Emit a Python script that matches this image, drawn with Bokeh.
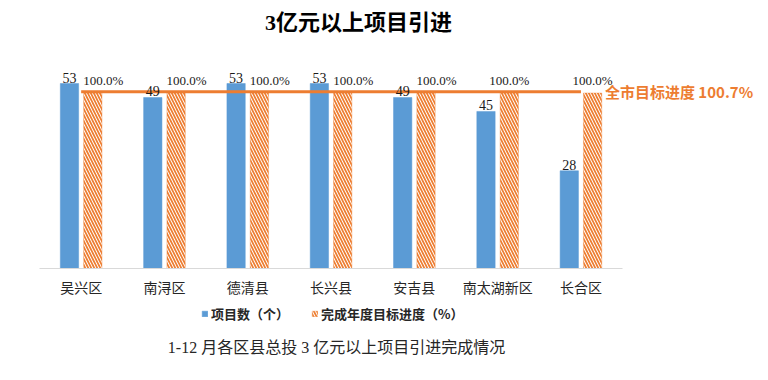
from bokeh.plotting import figure
from bokeh.models import (ColumnDataSource, Range1d, Legend, LegendItem,
                          Label, FixedTicker)
from bokeh.core.properties import value
from bokeh.transform import dodge
from bokeh.embed import file_html
from bokeh.resources import INLINE

# ---- data ----
categories = ["吴兴区", "南浔区", "德清县", "长兴县", "安吉县", "南太湖新区", "长合区"]
project_counts = [53, 49, 53, 53, 49, 45, 28]
completion_pct = [100.0, 100.0, 100.0, 100.0, 100.0, 100.0, 100.0]
city_target_pct = 100.7
series_names = ["项目数（个）", "完成年度目标进度（%）"]
chart_title = "3亿元以上项目引进"
caption = "1-12 月各区县总投 3 亿元以上项目引进完成情况"

# ---- styles / layout (pixels) ----
BLUE = "#5B9BD5"
ORANGE = "#ED7D31"
SERIF = "'Liberation Serif', 'Noto Sans CJK SC', serif"
SANS = "'Noto Sans CJK SC', sans-serif"
pct_label_nudge = [10.5, 10.5, 10.5, 10.5, 10.5, 0, 0]

W, H = 768, 380
FRAME_H = H               # axis drawn at fixed location inside the frame
X0_PX, CAT_PX = 39, 83.3  # left edge of axis, width of one category
BASE_PX = 268             # baseline, from top
COUNT_PX = 3.49           # pixels per project
PCT_PX = 1.755            # pixels per percent

n = len(categories)
xpos = [i + 0.5 for i in range(n)]

x_start = -X0_PX / CAT_PX
x_end = (W - X0_PX) / CAT_PX
y_end = BASE_PX / COUNT_PX
y_start = -(FRAME_H - BASE_PX) / COUNT_PX
py_end = BASE_PX / PCT_PX
py_start = -(FRAME_H - BASE_PX) / PCT_PX

def data_x(px):
    return (px - X0_PX) / CAT_PX

def data_y(px):
    return (BASE_PX - px) / COUNT_PX

source = ColumnDataSource(dict(
    x=xpos,
    count=project_counts,
    pct=completion_pct,
    count_label=[str(v) for v in project_counts],
    pct_label=[f"{v:.1f}%" for v in completion_pct],
    nudge=pct_label_nudge,
))

p = figure(x_range=Range1d(x_start, x_end), y_range=Range1d(y_start, y_end),
           width=W, height=H, output_backend="svg", toolbar_location=None,
           min_border_left=0, min_border_right=0, min_border_top=0,
           min_border_bottom=0)
p.extra_y_ranges = {"pct": Range1d(py_start, py_end)}

blue = p.vbar(x=dodge("x", -0.14), top="count", bottom=0, width=0.22,
              source=source, fill_color=BLUE, line_color=BLUE, line_width=0.5)
orange = p.vbar(x=dodge("x", 0.14), top="pct", bottom=0, width=0.22,
                source=source, y_range_name="pct", fill_color="white",
                line_color=ORANGE, line_width=0.6, line_alpha=0.6,
                hatch_pattern="\\", hatch_color=ORANGE, hatch_scale=6,
                hatch_weight=1.7)

p.line(x=[xpos[0], xpos[-1]], y=[city_target_pct, city_target_pct],
       y_range_name="pct", line_color=ORANGE, line_width=3)

p.text(x=dodge("x", -0.14), y="count", text="count_label",
       source=source, text_align="center", text_baseline="bottom", y_offset=-1,
       text_font=value(SERIF), text_font_size="14px", text_color="#1a1a1a")
p.text(x=dodge("x", 0.14), y="pct", text="pct_label",
       source=source, y_range_name="pct", text_align="center",
       text_baseline="bottom", y_offset=-5, x_offset="nudge",
       text_font=value(SERIF), text_font_size="13px", text_color="#1a1a1a")

p.add_layout(Label(x=xpos[-1], y=city_target_pct, y_range_name="pct",
                   x_offset=24, text=f"全市目标进度 {city_target_pct}%",
                   text_color=ORANGE, text_font=SANS, text_font_size="15px",
                   text_font_style="bold", text_baseline="middle"))

# title and caption
p.add_layout(Label(x=data_x(358), y=data_y(22), text=chart_title,
                   text_align="center", text_baseline="middle",
                   text_font=SERIF, text_font_size="22px",
                   text_font_style="bold", text_color="#000000"))
p.add_layout(Label(x=data_x(336), y=data_y(347), text=caption,
                   text_align="center", text_baseline="middle",
                   text_font=SERIF, text_font_size="16px",
                   text_color="#262626"))

p.yaxis.visible = False
p.xgrid.grid_line_color = None
p.ygrid.grid_line_color = None
p.outline_line_color = None
p.xaxis.fixed_location = 0
p.xaxis.bounds = (0, n)
p.xaxis.ticker = FixedTicker(ticks=xpos)
p.xaxis.major_label_overrides = {x: c for x, c in zip(xpos, categories)}
p.xaxis.axis_line_color = "#D9D9D9"
p.xaxis.major_tick_line_color = None
p.xaxis.minor_tick_line_color = None
p.xaxis.major_tick_in = 0
p.xaxis.major_tick_out = 0
p.xaxis.minor_tick_out = 0
p.xaxis.major_label_text_font = SANS
p.xaxis.major_label_text_font_size = "14px"
p.xaxis.major_label_text_color = "#262626"
p.xaxis.major_label_standoff = 8

legend = Legend(items=[LegendItem(label=series_names[0], renderers=[blue]),
                       LegendItem(label=series_names[1], renderers=[orange])],
                orientation="horizontal", location=(201, FRAME_H - 323),
                glyph_width=7, glyph_height=7, label_standoff=3, spacing=22,
                label_height=16,
                label_text_font=SANS, label_text_font_size="13px",
                label_text_font_style="bold", label_text_color="#262626",
                border_line_color=None, background_fill_alpha=0,
                padding=0, margin=0)
p.add_layout(legend)

open("out.html", "w").write(file_html(p, INLINE))
